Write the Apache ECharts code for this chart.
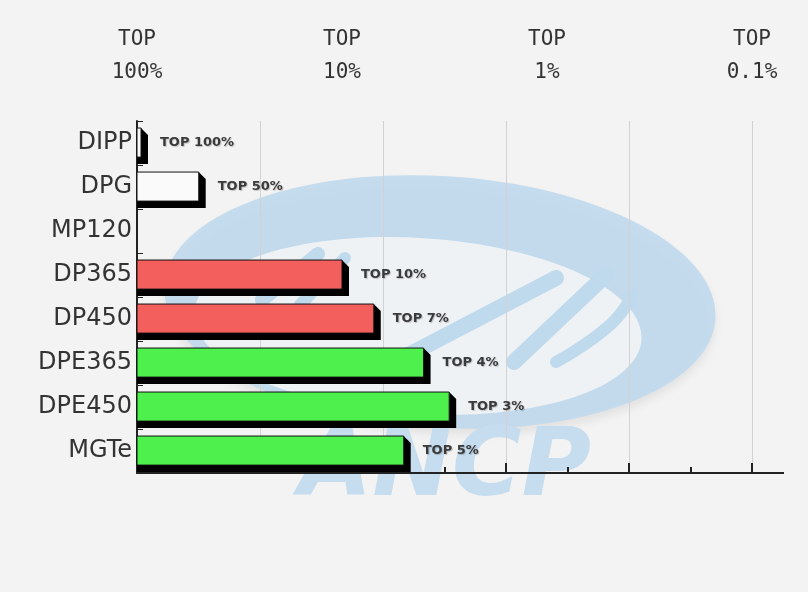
<!DOCTYPE html>
<html>
<head>
<meta charset="utf-8">
<script src="https://cdn.jsdelivr.net/npm/echarts@6/dist/echarts.min.js"></script>
<style>
html,body{margin:0;padding:0;background:#f3f3f3;}
#chart{width:808px;height:592px;}
</style>
</head>
<body>
<div id="chart"></div>
<script>
// ---- data ----
var categories = ['DIPP', 'DPG', 'MP120', 'DP365', 'DP450', 'DPE365', 'DPE450', 'MGTe'];
var topPercent = [100, 50, null, 10, 7, 4, 3, 5];           // "TOP x%" ranking; null = no result
var barLabels  = ['TOP 100%', 'TOP 50%', '', 'TOP 10%', 'TOP 7%', 'TOP 4%', 'TOP 3%', 'TOP 5%'];
var topTickLabels = ['100%', '10%', '1%', '0.1%'];          // decade labels along the top

// ---- styles (kept separate from the data) ----
var barColors = ['#fafafa', '#fafafa', '#fafafa', '#f25f5c', '#f25f5c', '#4ef04e', '#4ef04e', '#4ef04e'];
var GRID = {left: 137, top: 121, right: 56, bottom: 119};
var WM = '#bfd9ed';

// value on the axis = number of decades from "TOP 100%"
var seriesData = [];
topPercent.forEach(function (t, i) {
  if (t == null) return;
  seriesData.push([Math.log10(100 / t), i, barLabels[i]]);
});

var chart = echarts.init(document.getElementById('chart'));

function renderBar(params, api) {
  var v = api.value(0), idx = api.value(1);
  var p0 = api.coord([0, idx]);
  var p1 = api.coord([v, idx]);
  var band = api.size([0, 1])[1];
  var x0 = p0[0];
  var x1 = Math.max(p1[0], x0 + 4);
  var cy = p0[1];
  var y0 = cy - band * 0.34, y1 = cy + band * 0.32;
  var d = 7;
  return {
    type: 'group',
    children: [
      {
        type: 'polygon',
        shape: {points: [[x1, y0], [x1 + d, y0 + d], [x1 + d, y1 + d], [x0, y1 + d], [x0, y1], [x1, y1]]},
        style: {fill: '#000'}
      },
      {
        type: 'rect',
        shape: {x: x0, y: y0, width: x1 - x0, height: y1 - y0},
        style: {fill: barColors[idx], stroke: '#111', lineWidth: 1}
      },
      {
        type: 'text',
        x: x1 + 19, y: cy,
        style: {
          text: api.value(2),
          font: 'bold 13px "DejaVu Sans"',
          fill: '#3a3a3a',
          verticalAlign: 'middle',
          align: 'left',
          textShadowColor: 'rgba(0,0,0,0.2)',
          textShadowBlur: 1,
          textShadowOffsetX: 1,
          textShadowOffsetY: 1
        }
      }
    ]
  };
}

var option = {
  backgroundColor: '#f3f3f3',
  animation: false,
  grid: {left: GRID.left, top: GRID.top, right: GRID.right, bottom: GRID.bottom, containLabel: false},
  xAxis: [
    {
      type: 'value', min: 0, max: 3, interval: 0.6, position: 'bottom',
      axisLine: {show: true, lineStyle: {color: '#222', width: 2}},
      axisTick: {show: true, inside: true, length: 10, lineStyle: {color: '#222', width: 2}},
      minorTick: {show: true, splitNumber: 2, length: 6, lineStyle: {color: '#222', width: 2}},
      axisLabel: {show: false},
      splitLine: {show: true, lineStyle: {color: '#d2d2d2', width: 1}}
    },
    {
      type: 'value', min: 0, max: 3, interval: 1, position: 'top',
      axisLine: {show: false}, axisTick: {show: false}, splitLine: {show: false},
      axisLabel: {
        show: true, margin: 32,
        fontFamily: '"DejaVu Sans Mono"', fontSize: 21, lineHeight: 33, color: '#333',
        align: 'center',
        formatter: function (v) { return 'TOP\n' + topTickLabels[Math.round(v)]; }
      }
    }
  ],
  yAxis: {
    type: 'category', data: categories, inverse: true,
    axisLine: {show: true, lineStyle: {color: '#222', width: 2}},
    axisTick: {show: true, inside: true, length: 6, lineStyle: {color: '#222', width: 1}},
    axisLabel: {fontFamily: '"DejaVu Sans"', fontSize: 24, color: '#333', margin: 5},
    splitLine: {show: false}
  },
  series: [{
    type: 'custom',
    xAxisIndex: 0,
    renderItem: renderBar,
    encode: {x: 0, y: 1},
    data: seriesData,
    z: 3
  }],
  graphic: [
    {type: 'ellipse', z: -1, silent: true, rotation: -0.06, originX: 440, originY: 302,
     shape: {cx: 440, cy: 302, rx: 276, ry: 126},
     style: {fill: WM, opacity: 0.9, shadowColor: 'rgba(0,0,0,0.08)', shadowBlur: 10, shadowOffsetY: 6}},
    {type: 'ellipse', z: -1, silent: true, rotation: -0.06, originX: 418, originY: 326,
     shape: {cx: 418, cy: 326, rx: 224, ry: 88}, style: {fill: '#eef2f5'}},
    {type: 'polyline', z: -1, silent: true, shape: {points: [[262, 300], [318, 254]]},
     style: {stroke: WM, lineWidth: 14, lineCap: 'round', fill: null}},
    {type: 'polyline', z: -1, silent: true, shape: {points: [[300, 305], [345, 258]]},
     style: {stroke: WM, lineWidth: 12, lineCap: 'round', fill: null}},
    {type: 'polyline', z: -1, silent: true, shape: {points: [[395, 362], [556, 278]]},
     style: {stroke: WM, lineWidth: 16, lineCap: 'round', fill: null}},
    {type: 'polyline', z: -1, silent: true, shape: {points: [[514, 362], [606, 275]]},
     style: {stroke: WM, lineWidth: 16, lineCap: 'round', fill: null}},
    {type: 'polyline', z: -1, silent: true, shape: {points: [[556, 362], [610, 325], [633, 294]], smooth: 0.5},
     style: {stroke: WM, lineWidth: 12, lineCap: 'round', fill: null}},
    {type: 'text', z: -1, silent: true, x: 445, y: 470,
     style: {text: 'ANCP', font: 'italic bold 95px "DejaVu Sans"', fill: '#c6dcef',
             align: 'center', verticalAlign: 'middle'}}
  ]
};

chart.setOption(option);

// extend the bottom axis line a little beyond the last grid line, as in the original
var xEnd = chart.convertToPixel({xAxisIndex: 0}, 3);
var yAxisPos = 592 - GRID.bottom;
chart.setOption({
  graphic: option.graphic.concat([{
    type: 'line', z: 5, silent: true,
    shape: {x1: xEnd, y1: yAxisPos, x2: xEnd + 32, y2: yAxisPos},
    style: {stroke: '#222', lineWidth: 2}
  }])
});
</script>
</body>
</html>
